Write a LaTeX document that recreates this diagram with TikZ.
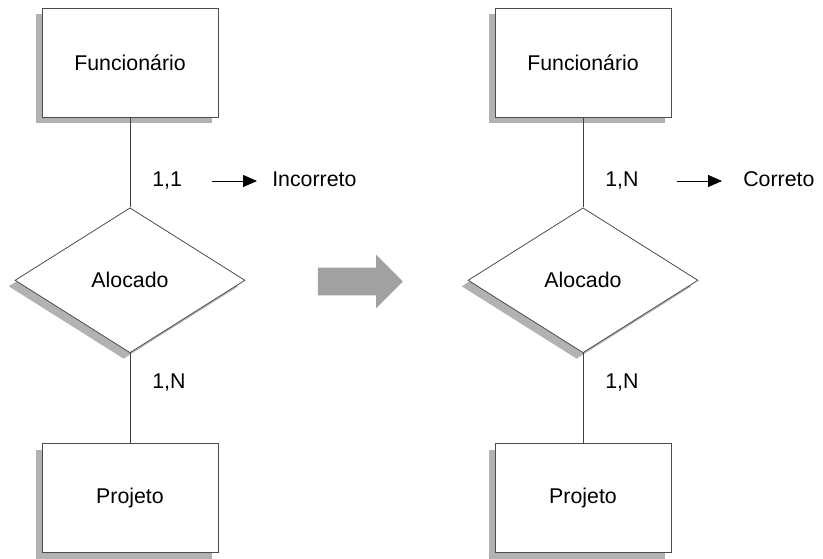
\documentclass[tikz,border=0pt]{standalone}
\usepackage{fontspec}
\setmainfont{Liberation Sans}
\usetikzlibrary{shapes.geometric, shapes.arrows, shadows, arrows.meta, positioning}

\begin{document}
\begin{tikzpicture}[x=0.75pt, y=-0.75pt, node distance=67.5pt]
        \tikzset{
            shade/.style={drop shadow={shadow xshift=-4.8pt, shadow yshift=-4.5pt, opacity=1, fill=black!30}},
            entity/.style={draw=black!70, line width=0.6pt, fill=white, shade, minimum width=132pt, minimum height=81.75pt, font=\fontsize{16}{19}\selectfont},
            relation/.style={diamond, draw=black!70, line width=0.6pt, fill=white, shade, inner sep=0pt, minimum width=172.5pt, minimum height=108.75pt, font=\fontsize{16}{19}\selectfont},
            card/.style={anchor=base west, inner sep=0pt, text height=12pt, text depth=3pt, font=\fontsize{16}{19}\selectfont},
            link/.style={draw=black!75, line width=0.6pt},
            pointer/.style={-{Triangle[length=10.5pt, width=9pt]}, line width=0.6pt, black}
        }
        \useasboundingbox (0,0) rectangle (823,559);

        % --- LEFT ---
        \node[entity] (fl) at (130,62.5) {Funcionário};
        \node[relation, below=of fl] (al) {Alocado};
        \node[entity, below=of al] (pl) {Projeto};
        \node[card] (cl1) at (152,187) {1,1};
        \node[card] (cl2) at (152,388) {1,N};
        \node[card] (wrong) at (272,187) {Incorreto};

        % --- RIGHT ---
        \node[entity] (fr) at (583,62.5) {Funcionário};
        \node[relation, below=of fr] (ar) {Alocado};
        \node[entity, below=of ar] (pr) {Projeto};
        \node[card] (cr1) at (605,187) {1,N};
        \node[card] (cr2) at (605,388) {1,N};
        \node[card] (right) at (743,187) {Correto};

        % Big arrow between both versions
        \node[single arrow, fill=black!37, inner xsep=0pt, inner ysep=10.125pt, minimum width=39.75pt, minimum height=63.75pt,
              single arrow head extend=9.75pt, single arrow head indent=0pt] (go) at (353.5,281.5) {};

        % Relationship lines
        \draw[link] (fl) -- (al);
        \draw[link] (al) -- (pl);
        \draw[link] (fr) -- (ar);
        \draw[link] (ar) -- (pr);

        % Verdict arrows
        \draw[pointer, shorten <=22.5pt, shorten >=11.25pt] (cl1) -- (wrong);
        \draw[pointer, shorten <=28.5pt, shorten >=15.75pt] (cr1) -- (right);

    \end{tikzpicture}
\end{document}
